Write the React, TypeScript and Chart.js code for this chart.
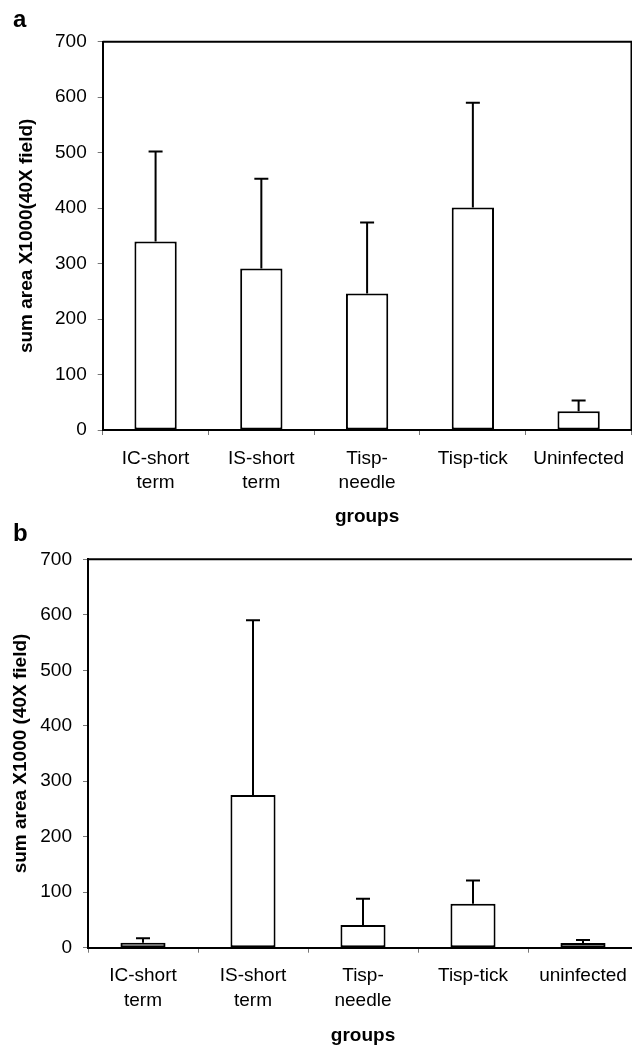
import React, { useEffect, useRef } from 'react';
import { Chart, registerables } from 'chart.js';

Chart.register(...registerables);

// ---- data ----
const categoriesA: (string | string[])[] = [['IC-short', 'term'], ['IS-short', 'term'], ['Tisp-', 'needle'], 'Tisp-tick', 'Uninfected'];
const categoriesB: (string | string[])[] = [['IC-short', 'term'], ['IS-short', 'term'], ['Tisp-', 'needle'], 'Tisp-tick', 'uninfected'];
const valuesA = [340, 291, 246, 401, 34];
const errorsA = [162, 162, 128, 189, 19];
const valuesB = [9, 275, 41, 79, 8.5];
const errorsB = [8, 315, 47, 42, 5.5];
const yMin = 0;
const yMax = 700;
const yStep = 100;
const yTitleA = 'sum area X1000(40X field)';
const yTitleB = 'sum area X1000 (40X field)';
const xTitle = 'groups';
const panelLetters = ['a', 'b'];

const FONT = "'Liberation Sans', Arial, Helvetica, sans-serif";

const errorBarPlugin = {
  id: 'errbars',
  afterDatasetsDraw(chart: any, _args: any, opts: any) {
    const { ctx } = chart;
    const meta = chart.getDatasetMeta(0);
    const y = chart.scales.y;
    const data = chart.data.datasets[0].data as number[];
    const errs: number[] = opts.errors || [];
    ctx.save();
    ctx.strokeStyle = '#000';
    ctx.lineWidth = 2;
    meta.data.forEach((bar: any, i: number) => {
      const top = y.getPixelForValue(data[i] + errs[i]);
      const x = bar.x;
      ctx.beginPath();
      ctx.moveTo(x, bar.y);
      ctx.lineTo(x, top);
      ctx.moveTo(x - 7, top);
      ctx.lineTo(x + 7, top);
      ctx.stroke();
    });
    ctx.restore();
  },
};

const frameBorderPlugin = {
  id: 'frameborder',
  afterDraw(chart: any) {
    const { ctx, chartArea } = chart;
    ctx.save();
    ctx.strokeStyle = '#000';
    ctx.lineWidth = 2;
    ctx.beginPath();
    ctx.moveTo(chartArea.left, chartArea.top);
    ctx.lineTo(chartArea.right, chartArea.top);
    ctx.lineTo(chartArea.right, chartArea.bottom);
    ctx.stroke();
    ctx.restore();
  },
};

function makeConfig(
  labels: (string | string[])[],
  values: number[],
  errors: number[],
  yTitle: string,
  geom: { padTop: number; padRight: number; yWidth: number; xHeight: number; yTitlePad: number; barPct: number }
): any {
  return {
    type: 'bar',
    data: {
      labels,
      datasets: [
        {
          data: values,
          backgroundColor: '#ffffff',
          borderColor: '#000000',
          borderWidth: 2,
          borderSkipped: false,
          categoryPercentage: 1,
          barPercentage: geom.barPct,
        },
      ],
    },
    plugins: [errorBarPlugin, frameBorderPlugin],
    options: {
      animation: false,
      responsive: false,
      devicePixelRatio: 1,
      layout: { padding: { top: geom.padTop, right: geom.padRight, bottom: 0, left: 0 } },
      plugins: {
        legend: { display: false },
        tooltip: { enabled: false },
        title: { display: false },
        errbars: { errors },
      },
      scales: {
        x: {
          type: 'category',
          afterFit: (s: any) => {
            s.height = geom.xHeight;
          },
          grid: { display: true, drawOnChartArea: false, drawTicks: true, tickLength: 5, color: '#777', lineWidth: 1, offset: true },
          border: { display: true, color: '#000', width: 2 },
          ticks: { color: '#000', font: { family: FONT, size: 19, lineHeight: 1.3 }, padding: 11, maxRotation: 0, autoSkip: false },
          title: { display: true, text: xTitle, color: '#000', font: { family: FONT, size: 19, weight: 'bold' }, padding: { top: 0, bottom: 2 } },
        },
        y: {
          min: yMin,
          max: yMax,
          afterFit: (s: any) => {
            s.width = geom.yWidth;
          },
          grid: { display: true, drawOnChartArea: false, drawTicks: true, tickLength: 5, color: '#777', lineWidth: 1 },
          border: { display: true, color: '#000', width: 2 },
          ticks: { stepSize: yStep, color: '#000', font: { family: FONT, size: 19 }, padding: 11 },
          title: { display: true, text: yTitle, color: '#000', font: { family: FONT, size: 19, weight: 'bold' }, padding: { top: geom.yTitlePad, bottom: 0 } },
        },
      },
    },
  };
}

function Panel(props: {
  top: number;
  width: number;
  height: number;
  config: any;
}) {
  const ref = useRef<HTMLCanvasElement | null>(null);
  useEffect(() => {
    if (!ref.current) return;
    const chart = new Chart(ref.current, props.config);
    return () => chart.destroy();
  }, []);
  return (
    <canvas
      ref={ref}
      width={props.width}
      height={props.height}
      style={{ position: 'absolute', left: 0, top: props.top, width: props.width, height: props.height, display: 'block' }}
    />
  );
}

const letterStyle: React.CSSProperties = {
  position: 'absolute',
  left: 13,
  fontFamily: FONT,
  fontWeight: 'bold',
  fontSize: 24,
  lineHeight: '24px',
  color: '#000',
};

export default function App() {
  const configA = makeConfig(categoriesA, valuesA, errorsA, yTitleA, {
    padTop: 41.7,
    padRight: 8.5,
    yWidth: 102.7,
    xHeight: 100,
    yTitlePad: 15.6,
    barPct: 0.4,
  });
  const configB = makeConfig(categoriesB, valuesB, errorsB, yTitleB, {
    padTop: 39.3,
    padRight: 7,
    yWidth: 88,
    xHeight: 101.3,
    yTitlePad: 9.6,
    barPct: 0.41,
  });
  return (
    <div style={{ position: 'absolute', left: 0, top: 0, width: 632, height: 1045, overflow: 'hidden', background: '#fff' }}>
      <Panel top={0} width={640} height={530} config={configA} />
      <Panel top={520} width={645} height={529} config={configB} />
      <div style={{ ...letterStyle, top: 7 }}>{panelLetters[0]}</div>
      <div style={{ ...letterStyle, top: 521 }}>{panelLetters[1]}</div>
    </div>
  );
}
